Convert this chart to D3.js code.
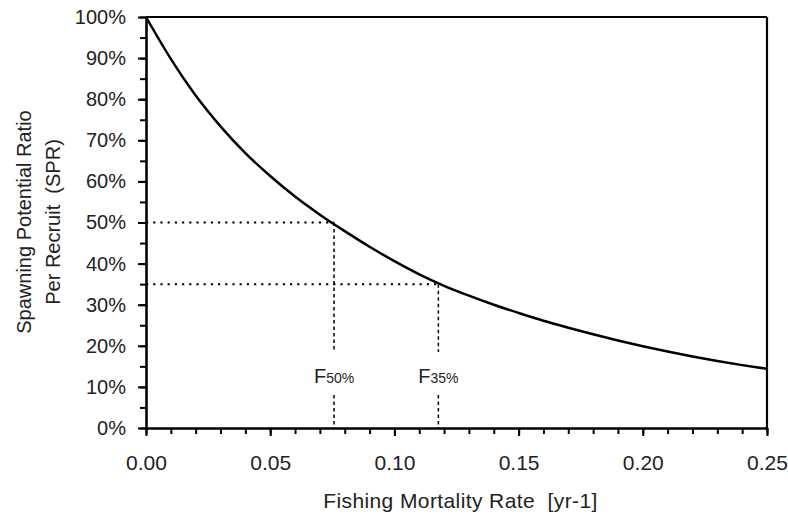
<!DOCTYPE html>
<html><head><meta charset="utf-8">
<script src="https://cdn.jsdelivr.net/npm/d3@7"></script>
<style>
html,body{margin:0;padding:0;background:#fff;}
svg{display:block;font-family:"Liberation Sans",Arial,sans-serif;}
</style></head>
<body>
<svg id="chart" width="788" height="518"></svg>
<script>
// Fishing mortality (yr-1) and Spawning Potential Ratio
const fishingMortality = [0.00,0.01,0.02,0.03,0.04,0.05,0.06,0.07,0.08,0.09,0.10,0.11,0.12,0.13,0.14,0.15,0.16,0.17,0.18,0.19,0.20,0.21,0.22,0.23,0.24,0.25];
const sprValues = [1.000,0.898,0.809,0.734,0.669,0.613,0.563,0.519,0.479,0.441,0.406,0.374,0.346,0.322,0.300,0.280,0.261,0.244,0.228,0.213,0.199,0.186,0.174,0.163,0.153,0.144];
const refLabels = ["50%","35%"];
const refSPR = [0.50,0.35];
const refF = [0.0757,0.1177];
const yTicks = [0,0.1,0.2,0.3,0.4,0.5,0.6,0.7,0.8,0.9,1.0];
const xTicks = [0,0.05,0.10,0.15,0.20,0.25];

(function(){
const svg = d3.select("#chart");
const mL=146, mR=767, mT=17, mB=428;
const x = d3.scaleLinear().domain([0,0.25]).range([mL,mR]);
const y = d3.scaleLinear().domain([0,1]).range([mB,mT]);
const fontSize = 20;
const textColor = "#222";

// minor ticks
const yMinor = d3.range(0,1.0001,0.05);
const xMinor = d3.range(0,0.25001,0.01);
svg.append("g").attr("transform",`translate(${mL},0)`)
  .call(d3.axisLeft(y).tickValues(yMinor).tickSize(6).tickFormat(""))
  .call(g=>{g.select(".domain").remove();g.selectAll("line").attr("stroke","#000").attr("stroke-width",2);});
svg.append("g").attr("transform",`translate(0,${mB})`)
  .call(d3.axisBottom(x).tickValues(xMinor).tickSize(6).tickFormat(""))
  .call(g=>{g.select(".domain").remove();g.selectAll("line").attr("stroke","#000").attr("stroke-width",2);});

// major axes
const yAxis = svg.append("g").attr("transform",`translate(${mL},0)`)
  .call(d3.axisLeft(y).tickValues(yTicks).tickSize(8).tickSizeOuter(0).tickPadding(12).tickFormat(d3.format(".0%")));
const xAxis = svg.append("g").attr("transform",`translate(0,${mB})`)
  .call(d3.axisBottom(x).tickValues(xTicks).tickSize(8).tickSizeOuter(0).tickPadding(19).tickFormat(d3.format(".2f")));
[yAxis,xAxis].forEach(g=>{
  g.select(".domain").attr("stroke","#000").attr("stroke-width",2.6);
  g.selectAll(".tick line").attr("stroke","#000").attr("stroke-width",2);
  g.selectAll("text").attr("font-size",fontSize).attr("fill",textColor).attr("font-family","Liberation Sans, Arial, sans-serif");
});
xAxis.selectAll("text").attr("font-size",21);

// frame top/right
svg.append("line").attr("x1",mL).attr("x2",mR).attr("y1",mT).attr("y2",mT).attr("stroke","#000").attr("stroke-width",2.2);
svg.append("line").attr("x1",mR).attr("x2",mR).attr("y1",mT).attr("y2",mB).attr("stroke","#000").attr("stroke-width",2.2);

// reference lines
refF.forEach((f,i)=>{
  svg.append("line").attr("x1",x(0)).attr("x2",x(f)).attr("y1",y(refSPR[i])).attr("y2",y(refSPR[i]))
    .attr("stroke","#000").attr("stroke-width",2).attr("stroke-dasharray","2.2,5");
  const labBase = 383;
  svg.append("line").attr("x1",x(f)).attr("x2",x(f)).attr("y1",y(refSPR[i])).attr("y2",labBase-31)
    .attr("stroke","#000").attr("stroke-width",1.5).attr("stroke-dasharray","3.5,3");
  svg.append("line").attr("x1",x(f)).attr("x2",x(f)).attr("y1",labBase+12).attr("y2",mB)
    .attr("stroke","#000").attr("stroke-width",1.5).attr("stroke-dasharray","3.5,3");
  const t = svg.append("text").attr("x",x(f)).attr("y",labBase).attr("text-anchor","middle")
    .attr("fill",textColor).attr("font-size",fontSize);
  t.append("tspan").text("F");
  t.append("tspan").attr("font-size",14).text(refLabels[i]);
});

// curve
const pts = fishingMortality.map((f,i)=>[f,sprValues[i]]);
svg.append("path").datum(pts)
  .attr("fill","none").attr("stroke","#000").attr("stroke-width",2.5)
  .attr("d",d3.line().x(d=>x(d[0])).y(d=>y(d[1])).curve(d3.curveMonotoneX));

// axis titles
svg.append("text").attr("x",(mL+mR)/2+4).attr("y",508).attr("text-anchor","middle")
  .attr("font-size",21).attr("letter-spacing",0.4).attr("fill",textColor).style("white-space","pre")
  .text("Fishing Mortality Rate  [yr-1]");
const yt = svg.append("text").attr("transform","translate(0,222) rotate(-90)").attr("text-anchor","middle")
  .attr("font-size",fontSize).attr("fill",textColor).style("white-space","pre");
yt.append("tspan").attr("x",0).attr("y",31).text("Spawning Potential Ratio");
yt.append("tspan").attr("x",0).attr("y",60).text("Per Recruit  (SPR)");
})();
</script>
</body></html>
